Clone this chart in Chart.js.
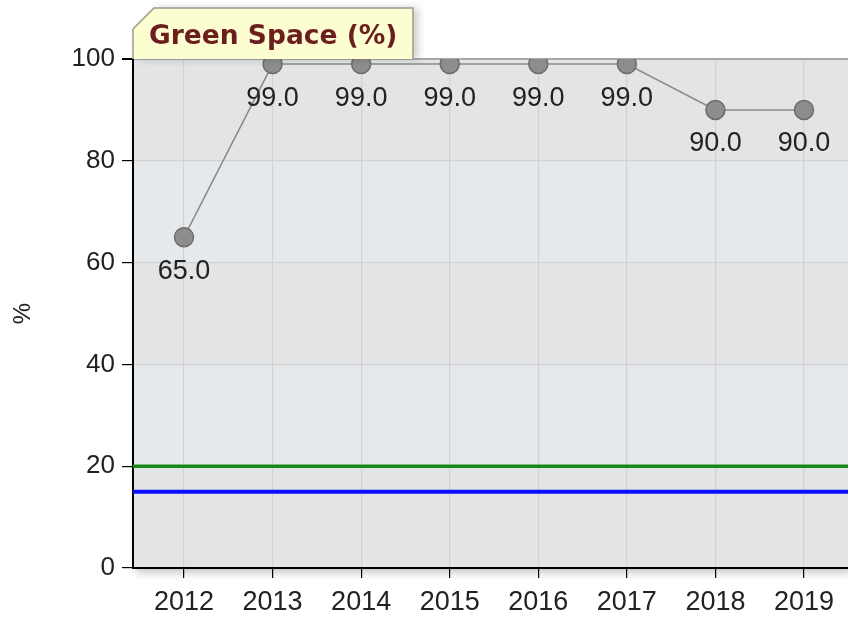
<!DOCTYPE html>
<html>
<head>
<meta charset="utf-8">
<script src="https://cdn.jsdelivr.net/npm/chart.js@4/dist/chart.umd.min.js"></script>
<style>
  html, body { margin: 0; padding: 0; background: #fff; overflow: hidden; }
  #wrap { width: 848px; height: 619px; }
</style>
</head>
<body>
<div id="wrap"><canvas id="grafico" width="848" height="619"></canvas></div>
<script>
// dados do gráfico
const anos = [2012, 2013, 2014, 2015, 2016, 2017, 2018, 2019];
const espacoVerde = [65.0, 99.0, 99.0, 99.0, 99.0, 99.0, 90.0, 90.0];
const linhaVerde = 20;   // referência verde
const linhaAzul = 15;    // referência azul
const ticksY = [0, 20, 40, 60, 80, 100];
const tituloGrafico = 'Green Space (%)';
const tituloEixoY = '%';

const xMin = 2011.424;
const xMax = 2019.497;

const fonteTicks = '"Liberation Sans", Arial, sans-serif';

// faixas alternadas no fundo + sombra da área
const pluginFundo = {
    id: 'fundo',
    beforeDraw(chart) {
        const { ctx, chartArea: a, scales: { y } } = chart;
        ctx.save();
        ctx.shadowColor = 'rgba(0,0,0,0.22)';
        ctx.shadowBlur = 8;
        ctx.shadowOffsetX = 3;
        ctx.shadowOffsetY = 5;
        ctx.fillStyle = '#e4e5e7';
        ctx.fillRect(a.left, a.top, a.right - a.left, a.bottom - a.top);
        ctx.restore();
        ctx.save();
        for (let i = 0; i < ticksY.length - 1; i++) {
            const y0 = y.getPixelForValue(ticksY[i]);
            const y1 = y.getPixelForValue(ticksY[i + 1]);
            ctx.fillStyle = (i % 2 === 0) ? '#e3e4e6' : '#e6e9ec';
            ctx.fillRect(a.left, y1, a.right - a.left, y0 - y1);
        }
        ctx.restore();
    }
};

// rótulos dos valores abaixo dos pontos
const pluginRotulos = {
    id: 'rotulos',
    afterDatasetsDraw(chart) {
        const { ctx } = chart;
        const meta = chart.getDatasetMeta(0);
        ctx.save();
        ctx.font = '27px ' + fonteTicks;
        ctx.fillStyle = '#222';
        ctx.textAlign = 'center';
        ctx.textBaseline = 'middle';
        meta.data.forEach((pt, i) => {
            ctx.fillText(espacoVerde[i].toFixed(1), pt.x, pt.y + 34);
        });
        ctx.restore();
    }
};

// caixa do título (estilo etiqueta)
const pluginTitulo = {
    id: 'tituloCaixa',
    afterDraw(chart) {
        const { ctx, chartArea: a } = chart;
        const esq = a.left, base = a.top, dir = 413, topo = 8;
        const contorno = () => {
            ctx.beginPath();
            ctx.moveTo(esq, base);
            ctx.lineTo(esq, 29);
            ctx.lineTo(esq + 21, topo);
            ctx.lineTo(dir, topo);
            ctx.lineTo(dir, base);
        };
        ctx.save();
        ctx.shadowColor = 'rgba(0,0,0,0.2)';
        ctx.shadowBlur = 8;
        ctx.shadowOffsetX = 5;
        contorno();
        ctx.closePath();
        ctx.fillStyle = '#fdfdd2';
        ctx.fill();
        ctx.restore();
        ctx.save();
        contorno();
        ctx.strokeStyle = '#9a9a8a';
        ctx.lineWidth = 1.5;
        ctx.stroke();
        ctx.font = 'bold 26.5px "DejaVu Sans", Verdana, sans-serif';
        ctx.fillStyle = '#6b1e1e';
        ctx.textBaseline = 'middle';
        ctx.fillText(tituloGrafico, 149, 37);
        ctx.restore();
    }
};

const ctx = document.getElementById('grafico').getContext('2d');
new Chart(ctx, {
    type: 'line',
    data: {
        datasets: [
            {
                label: tituloGrafico,
                data: anos.map((a, i) => ({ x: a, y: espacoVerde[i] })),
                borderColor: '#8a8a8a',
                borderWidth: 1.5,
                pointRadius: 9.5,
                pointBackgroundColor: '#8d8d8d',
                pointBorderColor: '#6c6c6c',
                pointBorderWidth: 1.5,
                tension: 0
            },
            {
                label: 'verde',
                data: [{ x: xMin, y: linhaVerde }, { x: xMax, y: linhaVerde }],
                borderColor: '#168a16',
                borderWidth: 3.5,
                pointRadius: 0
            },
            {
                label: 'azul',
                data: [{ x: xMin, y: linhaAzul }, { x: xMax, y: linhaAzul }],
                borderColor: '#0d0dff',
                borderWidth: 4,
                pointRadius: 0
            }
        ]
    },
    options: {
        responsive: false,
        animation: false,
        devicePixelRatio: 1,
        layout: { autoPadding: false, padding: { top: 59, left: 0, right: 0, bottom: 0 } },
        plugins: { legend: { display: false }, tooltip: { enabled: false } },
        scales: {
            x: {
                type: 'linear',
                min: xMin,
                max: xMax,
                afterFit: s => { s.height = 51; s.paddingLeft = 0; s.paddingRight = 0; },
                afterBuildTicks: s => { s.ticks = anos.map(v => ({ value: v })); },
                grid: { color: '#d2d2d2', lineWidth: 1.2, tickLength: 10, tickColor: '#000' },
                border: { color: '#000', width: 2 },
                ticks: {
                    color: '#222',
                    padding: 8,
                    maxRotation: 0,
                    font: { size: 27, family: fonteTicks },
                    callback: v => String(v)
                }
            },
            y: {
                min: 0,
                max: 100,
                afterFit: s => { s.width = 133; s.paddingTop = 0; s.paddingBottom = 0; },
                afterBuildTicks: s => { s.ticks = ticksY.map(v => ({ value: v })); },
                grid: {
                    color: c => (c.tick && c.tick.value === 100) ? '#a8a8a8' : '#d2d2d2',
                    lineWidth: c => (c.tick && c.tick.value === 100) ? 2 : 1.2,
                    tickLength: 11,
                    tickColor: '#000'
                },
                border: { color: '#000', width: 2 },
                ticks: {
                    color: '#222',
                    padding: 7,
                    font: { size: 26, family: fonteTicks }
                },
                title: {
                    display: true,
                    text: tituloEixoY,
                    color: '#222',
                    font: { size: 24, family: fonteTicks },
                    padding: { top: 9, bottom: 0 }
                }
            }
        }
    },
    plugins: [pluginFundo, pluginRotulos, pluginTitulo]
});
</script>
</body>
</html>
